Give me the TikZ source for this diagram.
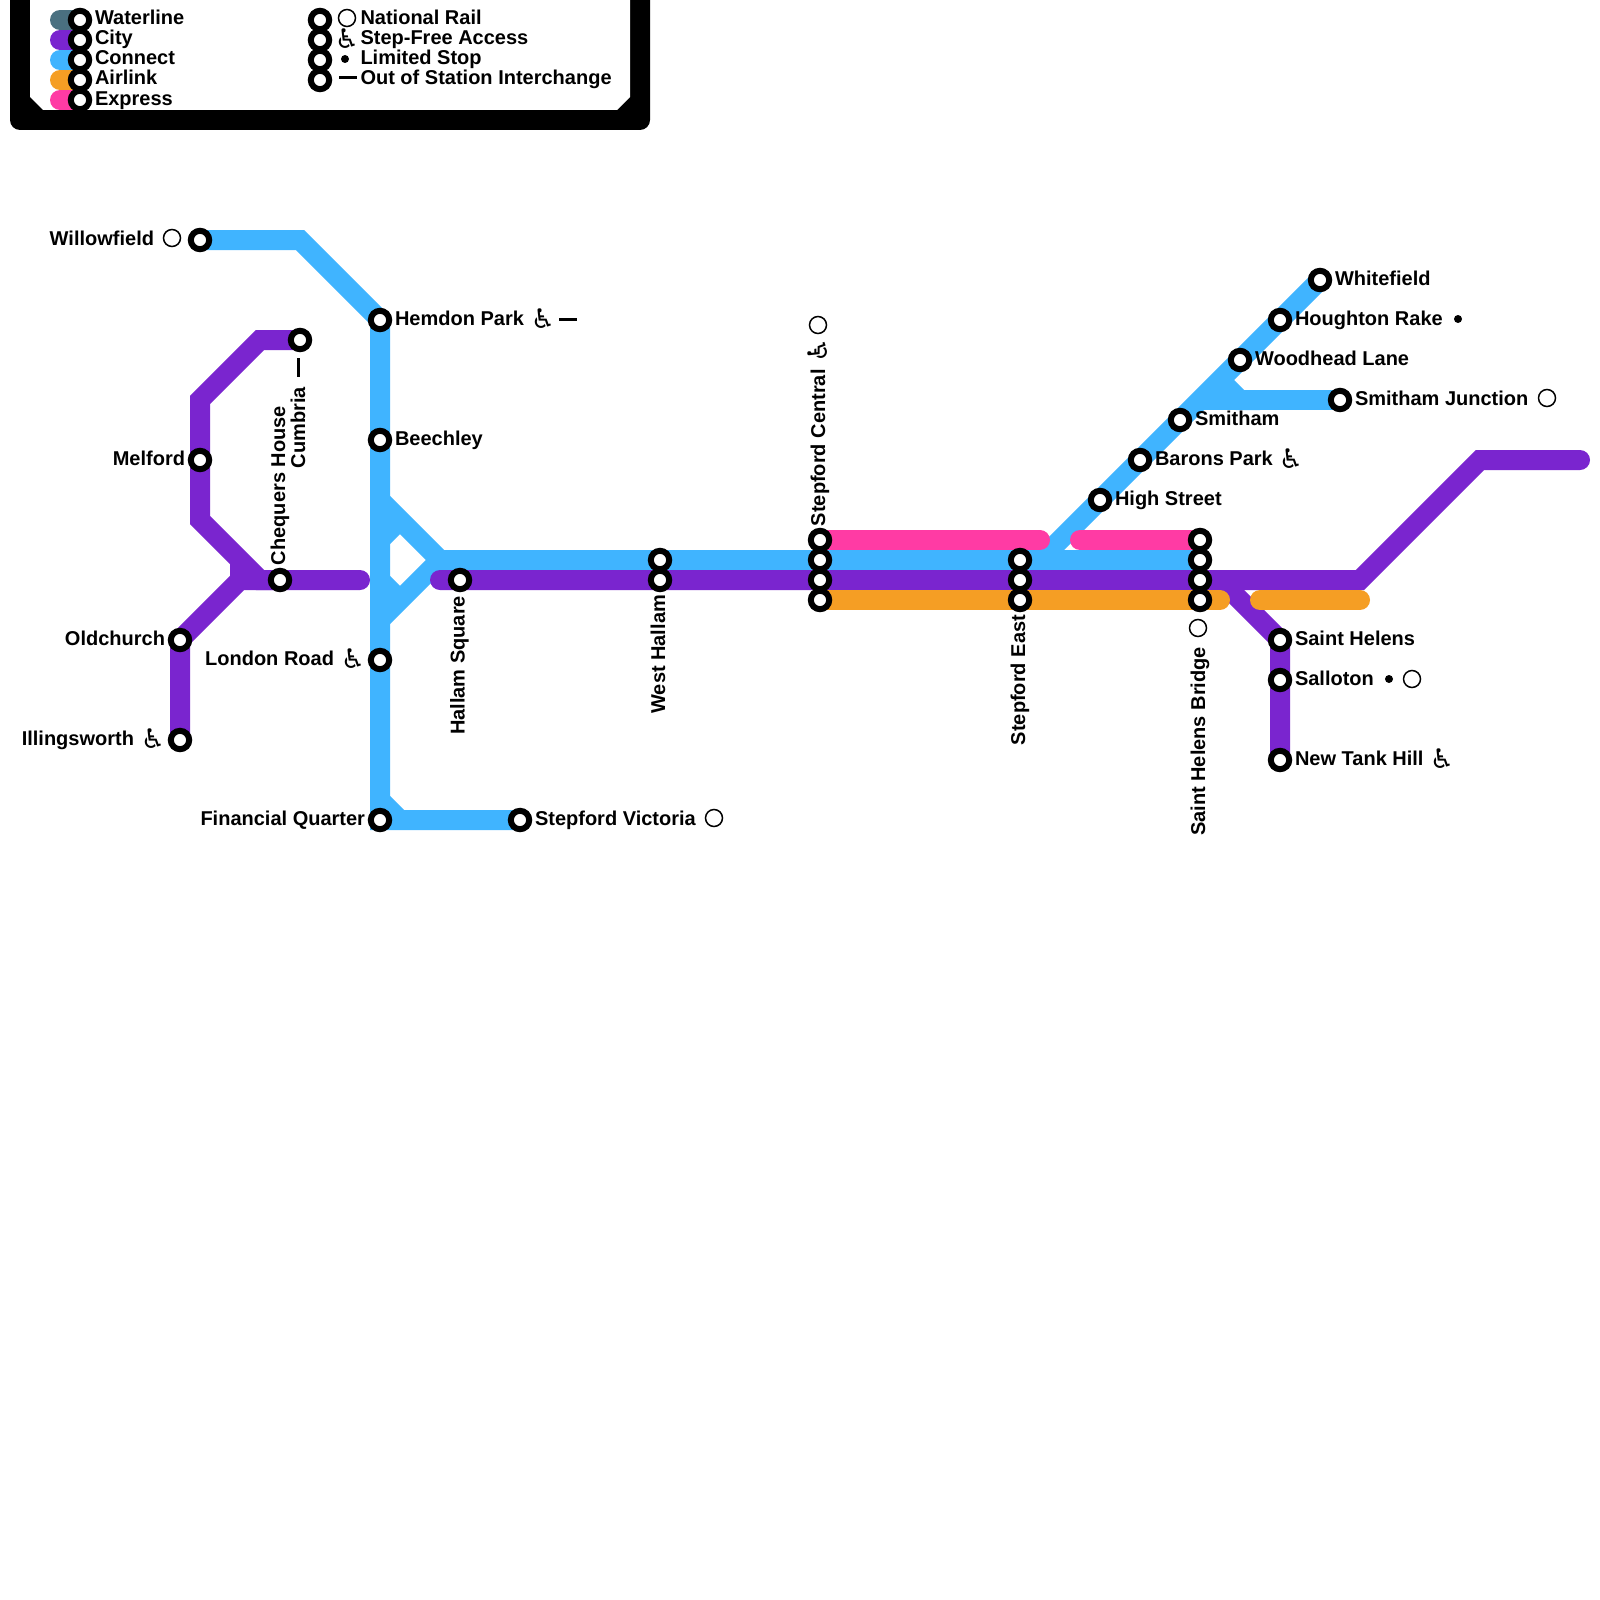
\documentclass[tikz,border=0pt]{standalone}
\usepackage{fontspec}
\setmainfont{Liberation Sans}[BoldFont={Liberation Sans Bold}]
\newfontfamily\symf{DejaVu Sans}[BoldFont={DejaVu Sans Bold}]
\definecolor{water}{RGB}{74,112,128}
\definecolor{city}{RGB}{122,37,207}
\definecolor{conn}{RGB}{64,180,255}
\definecolor{air}{RGB}{245,158,36}
\definecolor{expr}{RGB}{255,59,164}
\tikzset{
 x=0.5pt,y=-0.5pt,
 rl/.style={line width=10pt,line cap=round,line join=miter},
 rb/.style={line width=10pt,line cap=butt,line join=miter},
 stn/.style={circle,draw=black,fill=white,line width=3pt,minimum size=9.2pt,inner sep=0pt,outer sep=0pt},
 lab/.style={font=\bfseries\fontsize{10}{12}\selectfont,inner sep=0pt,outer sep=0pt,text=black},
 lw/.style={lab,anchor=base west},
 le/.style={lab,anchor=base east},
 rw/.style={lab,anchor=base west,rotate=90},
 re/.style={lab,anchor=base east,rotate=90},
 nr/.style={circle,draw=black,fill=white,line width=0.75pt,minimum size=8.5pt,inner sep=0pt},
 ld/.style={circle,fill=black,minimum size=4pt,inner sep=0pt},
 oos/.style={line width=1.5pt,black},
 wc/.style={font=\symf\bfseries\fontsize{13.5}{14}\selectfont,inner sep=0pt,text=black},
}
\newcommand{\stnpt}[2]{\coordinate (#1) at #2;}
\begin{document}
\begin{tikzpicture}
\useasboundingbox (0,0) rectangle (1600,1600);
\fill[white] (0,0) rectangle (1600,1600);
% legend frame
\fill[black,rounded corners=5pt] (10,-20) rectangle (650,130);
\fill[white] (30,-5) -- (630,-5) -- (630,97) -- (617,110) -- (43,110) -- (30,97) -- cycle;
% station coordinates
\stnpt{willow}{(200,240)}\stnpt{hemdon}{(380,320)}\stnpt{beech}{(380,440)}
\stnpt{london}{(380,660)}\stnpt{finq}{(380,820)}\stnpt{svic}{(520,820)}
\stnpt{cumb}{(300,340)}\stnpt{melf}{(200,460)}\stnpt{cheq}{(280,580)}
\stnpt{oldc}{(180,640)}\stnpt{illi}{(180,740)}\stnpt{hall}{(460,580)}
\stnpt{whb}{(660,560)}\stnpt{whc}{(660,580)}
\stnpt{sca}{(820,540)}\stnpt{scb}{(820,560)}\stnpt{scc}{(820,580)}\stnpt{scd}{(820,600)}
\stnpt{seb}{(1020,560)}\stnpt{sec}{(1020,580)}\stnpt{sed}{(1020,600)}
\stnpt{sha}{(1200,540)}\stnpt{shb}{(1200,560)}\stnpt{shc}{(1200,580)}\stnpt{shd}{(1200,600)}
\stnpt{high}{(1100,500)}\stnpt{baron}{(1140,460)}\stnpt{smit}{(1180,420)}
\stnpt{wood}{(1240,360)}\stnpt{houg}{(1280,320)}\stnpt{whit}{(1320,280)}\stnpt{smij}{(1340,400)}
\stnpt{shel}{(1280,640)}\stnpt{sall}{(1280,680)}\stnpt{newt}{(1280,760)}
% connect
\draw[rb,conn] (willow) -- (300,240) -- (hemdon) -- (finq) -- (svic);
\draw[rb,conn] (380,800) -- (400,820);
\draw[rb,conn] (380,500) -- (440,560) -- (shb);
\draw[rb,conn] (380,620) -- (440,560);
\draw[rb,conn] (380,540) -- (400,520);
\draw[rb,conn] (380,580) -- (400,600);
\draw[rb,conn] (1020,580) -- (whit);
\draw[rb,conn] (1200,400) -- (smij);
\draw[rb,conn] (1220,380) -- (1240,400) -- (1260,400);
% city
\draw[rl,city] (cumb) -- (260,340) -- (200,400) -- (200,520) -- (260,580) -- (cheq);
\draw[rb,city] (240,560) -- (240,585);
\draw[rl,city] (illi) -- (oldc) -- (240,580) -- (360,580);
\draw[rl,city] (440,580) -- (1360,580) -- (1480,460) -- (1580,460);
\draw[rb,city] (1220,580) -- (shel) -- (newt);
% airlink
\draw[rl,air] (scd) -- (1220,600);
\draw[rl,air] (1260,600) -- (1360,600);
% express
\draw[rl,expr] (sca) -- (1040,540);
\draw[rl,expr] (1080,540) -- (sha);
% stations
\foreach \s in {willow,hemdon,beech,london,finq,svic,cumb,melf,cheq,oldc,illi,hall,whb,whc,sca,scb,scc,scd,seb,sec,sed,sha,shb,shc,shd,high,baron,smit,wood,houg,whit,smij,shel,sall,newt}
 \node[stn] (r-\s) at (\s) {};
% labels
\node[le] (l-willow) at (154,245) {Willowfield};
\node[nr] (i-willow) at (172,238) {};
\node[lw] (l-hemdon) at (395,325) {Hemdon Park};
\node[wc] (w-hemdon) at (543,319) {♿};
\coordinate (o1) at (559,319);\coordinate (o2) at (577,319);\draw[oos] (o1) -- (o2);
\node[lw] (l-beech) at (395,445) {Beechley};
\node[le] (l-melf) at (185,465) {Melford};
\node[le] (l-oldc) at (165,645) {Oldchurch};
\node[le] (l-illi) at (134,745) {Illingsworth};
\node[wc] (w-illi) at (153,739) {♿};
\node[le] (l-london) at (334,665) {London Road};
\node[wc] (w-london) at (353,659) {♿};
\node[le] (l-finq) at (365,825) {Financial Quarter};
\node[lw] (l-svic) at (535,825) {Stepford Victoria};
\node[nr] (i-svic) at (714,818) {};
\node[rw] (l-cheq) at (285,565) {Chequers House};
\node[re] (l-cumb) at (305,387) {Cumbria};
\coordinate (o3) at (298,358);\coordinate (o4) at (298,377);\draw[oos] (o3) -- (o4);
\node[re] (l-hall) at (464.5,596) {Hallam Square};
\node[re] (l-wh) at (665,595) {West Hallam};
\node[rw] (l-sc) at (825,526) {Stepford Central};
\node[wc,rotate=90] (w-sc) at (818,350) {♿};
\node[nr] (i-sc) at (818,325) {};
\node[re] (l-se) at (1025,615) {Stepford East};
\node[re] (l-sh) at (1205,647) {Saint Helens Bridge};
\node[nr] (i-sh) at (1198,628) {};
\node[lw] (l-high) at (1115,505) {High Street};
\node[lw] (l-baron) at (1155,465) {Barons Park};
\node[wc] (w-baron) at (1291,459) {♿};
\node[lw] (l-smit) at (1195,425) {Smitham};
\node[lw] (l-wood) at (1255,365) {Woodhead Lane};
\node[lw] (l-houg) at (1295,325) {Houghton Rake};
\node[ld] (d-houg) at (1458,319) {};
\node[lw] (l-whit) at (1335,285) {Whitefield};
\node[lw] (l-smij) at (1355,405) {Smitham Junction};
\node[nr] (i-smij) at (1547,398) {};
\node[lw] (l-shel) at (1295,645) {Saint Helens};
\node[lw] (l-sall) at (1295,685) {Salloton};
\node[ld] (d-sall) at (1389,679) {};
\node[nr] (i-sall) at (1412,679) {};
\node[lw] (l-newt) at (1295,765) {New Tank Hill};
\node[wc] (w-newt) at (1442,759) {♿};
% legend keys
\foreach \n/\c/\y/\t in {a/water/20/Waterline,b/city/40/City,c/conn/60/Connect,d/air/80/Airlink,e/expr/100/Express}{
 \coordinate (k\n1) at (60,\y);\coordinate (k\n2) at (80,\y);
 \draw[rl,\c] (k\n1) -- (k\n2);
}
\foreach \n/\c/\y/\t in {a/water/20/Waterline,b/city/40/City,c/conn/60/Connect,d/air/80/Airlink,e/expr/100/Express}{
 \node[stn] (kr\n) at (k\n2) {};
 \node[lw] (kl\n) at (95,\y+5) {\t};
}
\foreach \n/\y in {a/20,b/40,c/60,d/80}{\node[stn] (mr\n) at (320,\y) {};}
\node[nr] (mia) at (347,18) {};
\node[lw] (mla) at (360.5,25) {National Rail};
\node[wc] (mib) at (347,39) {♿};
\node[lw] (mlb) at (360.5,45) {Step-Free Access};
\node[ld] (mic) at (345,59) {};
\node[lw] (mlc) at (360.5,65) {Limited Stop};
\coordinate (o5) at (339,78);\coordinate (o6) at (357,78);\draw[oos] (o5) -- (o6);
\node[lw] (mld) at (360.5,85) {Out of Station Interchange};
\end{tikzpicture}
\end{document}
